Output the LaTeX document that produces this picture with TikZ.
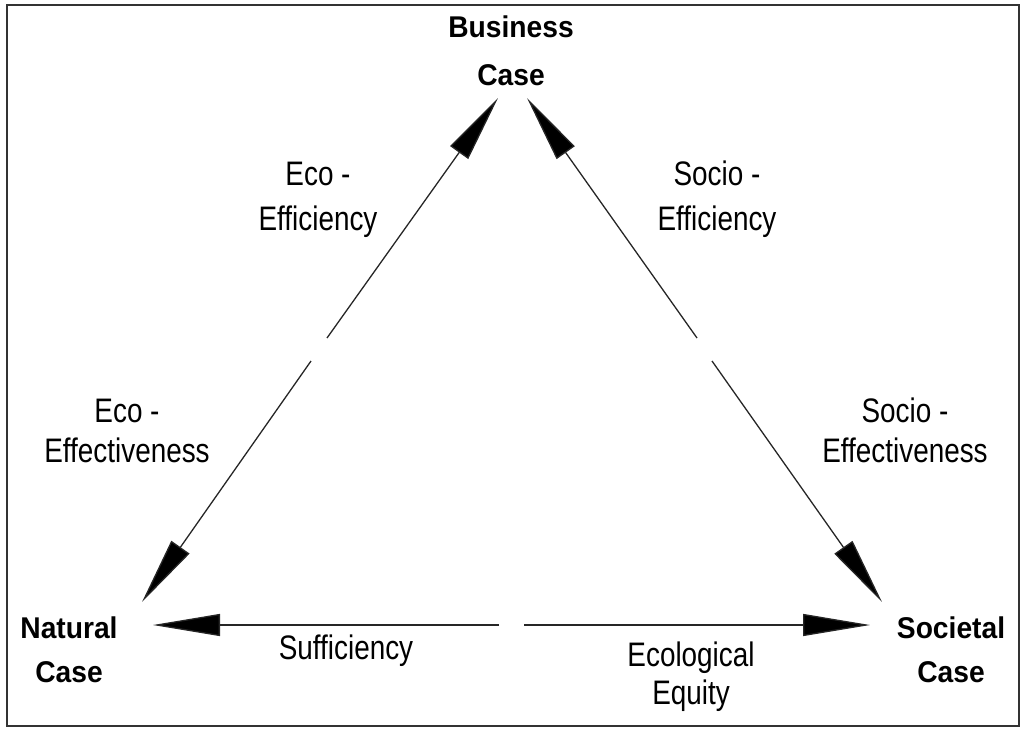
\documentclass[tikz,border=0pt]{standalone}
\usepackage{fontspec}
\setmainfont{Liberation Sans}
\newfontfamily\labfont[FakeStretch=0.82]{Liberation Sans}
\newfontfamily\boldfont[FakeStretch=0.94]{Liberation Sans Bold}
\usetikzlibrary{arrows.meta}
\begin{document}
\begin{tikzpicture}[x=1pt,y=-1pt,
  corner/.style={font=\boldfont\fontsize{30}{40}\selectfont, align=center, anchor=base, inner sep=0pt},
  lab/.style={font=\labfont\fontsize{34}{40}\selectfont, align=center, anchor=base, inner sep=0pt},
  arr/.style={line width=1.3pt, draw=black!85, -{Triangle[length=67pt,width=22pt,fill=black]}}]
\useasboundingbox (0,0) rectangle (1024,731);
\draw[line width=2pt, draw=black!80] (7,5) rectangle (1019,726);
% corner labels (anchor = baseline of last line)
\node[corner] (bus) at (511,85) {Business\\[8pt]Case};
\node[corner] (nat) at (69,682) {Natural\\[4pt]Case};
\node[corner] (soc) at (951,682) {Societal\\[4pt]Case};
% edge labels
\node[lab] (ecoeff) at (318,230) {Eco -\\[5pt]Efficiency};
\node[lab] (ecoeffv) at (127,462) {Eco -\\Effectiveness};
\node[lab] (socef) at (717,230) {Socio -\\[5pt]Efficiency};
\node[lab] (socefv) at (905,462) {Socio -\\Effectiveness};
\node[lab] (suff) at (346,659) {Sufficiency};
\node[lab] (ecoeq) at (691,704) {Ecological\\[-2pt]Equity};
% connector end points
\coordinate (tBL) at (498,98);
\coordinate (tBR) at (527,98);
\coordinate (tNd) at (142,602);
\coordinate (tNh) at (153,625);
\coordinate (tSh) at (870,625);
\coordinate (tSd) at (882,602);
\coordinate (gL1) at (327,338);
\coordinate (gL2) at (311,361);
\coordinate (gR1) at (697,338);
\coordinate (gR2) at (712,361);
\coordinate (gB1) at (499,625);
\coordinate (gB2) at (524,625);
\draw[arr] (gL1) -- (tBL);
\draw[arr] (gL2) -- (tNd);
\draw[arr] (gR1) -- (tBR);
\draw[arr] (gR2) -- (tSd);
\draw[arr] (gB1) -- (tNh);
\draw[arr] (gB2) -- (tSh);
\end{tikzpicture}
\end{document}
